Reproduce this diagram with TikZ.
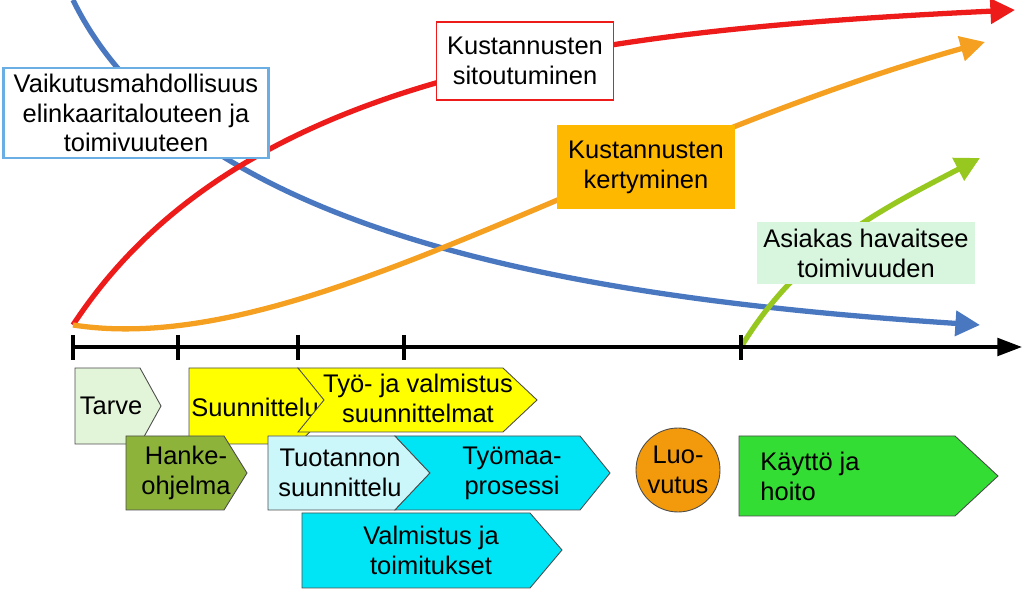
\documentclass[tikz,border=0pt]{standalone}
\usepackage{fontspec}
\setmainfont{Liberation Sans}
\usetikzlibrary{arrows.meta}
\definecolor{cTarve}{HTML}{E3F5D8}
\definecolor{cHanke}{HTML}{8DB33A}
\definecolor{cYel}{HTML}{FFFF00}
\definecolor{cLcyan}{HTML}{CCF7FA}
\definecolor{cCyan}{HTML}{00E5F5}
\definecolor{cOrange}{HTML}{FFB800}
\definecolor{cLuo}{HTML}{F39A0C}
\definecolor{cGreen}{HTML}{33DD33}
\definecolor{cAsi}{HTML}{D8F5DD}
\definecolor{cBlue}{HTML}{4A78C0}
\definecolor{cRed}{HTML}{EE1B1B}
\definecolor{cOrCurve}{HTML}{F5A020}
\definecolor{cGrCurve}{HTML}{96C820}
\tikzset{
 x=0.02cm,y=-0.02cm,
 lbl/.style={font=\fontsize{14.5}{17}\selectfont,align=center},
 shp/.style={draw=black!70,line width=0.5pt},
 crv/.style={line width=3pt,-{Triangle[length=14pt,width=14pt]}},
}
\begin{document}
\begin{tikzpicture}
\useasboundingbox (0,0) rectangle (1024,590);
% curves
\draw[crv,cBlue] (73,0) .. controls (190,240) and (600,300) .. (980,325);
\draw[crv,cRed] (73,325) .. controls (240,70) and (600,30) .. (1015,10);
\draw[crv,cOrCurve] (73,325) .. controls (300,360) and (600,150) .. (985,42);
\draw[crv,cGrCurve] (741,347) .. controls (800,250) and (880,210) .. (980,158);
% axis
\coordinate (a0) at (73,347); \coordinate (a1) at (1022,347);
\draw[line width=2pt,-{Triangle[length=14pt,width=10pt]}] (a0) -- (a1);
\foreach \t in {73,178,298,404,741}{\draw[line width=2pt] (\t,335) -- (\t,360);}
% boxes
\node[lbl,draw=cyan!70!blue!60,line width=1.2pt,fill=white,minimum width=5.3cm,minimum height=1.74cm] (vai) at (136,113) {Vaikutusmahdollisuus\\elinkaaritalouteen ja\\toimivuuteen};
\node[lbl,draw=cRed,line width=1pt,fill=white,minimum width=3.54cm,minimum height=1.56cm] (sit) at (525,61) {Kustannusten\\sitoutuminen};
\node[lbl,fill=cOrange,minimum width=3.56cm,minimum height=1.7cm] (ker) at (646,167) {Kustannusten\\kertyminen};
\node[lbl,fill=cAsi,minimum width=4.24cm,minimum height=1.26cm] (asi) at (866,253) {Asiakas havaitsee\\toimivuuden};
% chevrons
\filldraw[shp,fill=cYel] (189,368) -- (298,368) -- (335,406) -- (298,444) -- (189,444) -- cycle;
\node[lbl] (suu) at (255,407) {Suunnittelu};
\filldraw[shp,fill=cYel] (298,368) -- (503,368) -- (537,400) -- (503,432) -- (298,432) -- (324,400) -- cycle;
\node[lbl] (tyo) at (418,398) {Työ- ja valmistus\\suunnittelmat};
\filldraw[shp,fill=cTarve] (75,368) -- (140,368) -- (161,406) -- (140,444) -- (75,444) -- cycle;
\node[lbl] (tar) at (111,406) {Tarve};
\filldraw[shp,fill=cHanke] (126,436) -- (224,436) -- (247,473) -- (224,510) -- (126,510) -- cycle;
\node[lbl] (han) at (186,473) {Hanke-\\ohjelma};
\filldraw[shp,fill=cCyan] (302,513) -- (530,513) -- (562,550) -- (530,588) -- (302,588) -- cycle;
\node[lbl] (val) at (431,550) {Valmistus ja\\toimitukset};
\filldraw[shp,fill=cLcyan] (268,436) -- (395,436) -- (430,473) -- (395,510) -- (268,510) -- cycle;
\node[lbl] (tuo) at (340,473) {Tuotannon\\suunnittelu};
\filldraw[shp,fill=cCyan] (395,436) -- (580,436) -- (610,473) -- (580,510) -- (395,510) -- (430,473) -- cycle;
\node[lbl] (tym) at (512,473) {Työmaa-\\prosessi};
\node[lbl,circle,shp,fill=cLuo,minimum size=1.68cm,inner sep=0pt] (luo) at (678,470) {Luo-\\vutus};
\filldraw[shp,fill=cGreen] (739,436) -- (955,436) -- (998,476) -- (955,516) -- (739,516) -- cycle;
\node[lbl,align=left] (kay) at (810,476) {Käyttö ja\\hoito};
\end{tikzpicture}
\end{document}
